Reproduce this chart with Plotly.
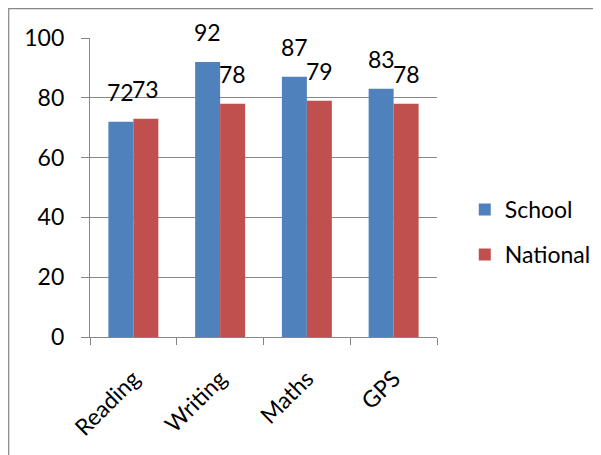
import plotly.graph_objects as go

categories = ["Reading", "Writing", "Maths", "GPS"]
school = [72, 92, 87, 83]
national = [73, 78, 79, 78]
y_ticks = [0, 20, 40, 60, 80, 100]

BLUE = "#4F81BD"
RED = "#C0504D"
GRID = "#868686"
FONT = "Lato"
FS = 23

fig = go.Figure()
fig.add_trace(go.Bar(name="School", x=categories, y=school, marker=dict(color=BLUE, line=dict(width=0)),
                     legendgroup="a"))
fig.add_trace(go.Bar(name="National", x=categories, y=national, marker=dict(color=RED, line=dict(width=0)),
                     legendgroup="b"))

annotations = []
for cat, s, n in zip(categories, school, national):
    for val, sh in ((s, -12.5), (n, 12.5)):
        annotations.append(dict(x=cat, y=val, text=str(val), showarrow=False, xref="x", yref="y",
                                yanchor="bottom", xanchor="center", xshift=sh, yshift=14,
                                font=dict(family=FONT, size=FS, color="black")))

fig.update_layout(
    width=601, height=455,
    margin=dict(l=82, r=172, t=30, b=126),
    paper_bgcolor="white", plot_bgcolor="white",
    barmode="group", bargap=0.424, bargroupgap=0,
    font=dict(family=FONT, size=FS, color="black"),
    annotations=annotations,
    legend=dict(x=1.08, y=0.351, xanchor="left", yanchor="middle", traceorder="grouped",
                tracegroupgap=12, font=dict(family=FONT, size=FS, color="black"),
                bgcolor="rgba(0,0,0,0)"),
    shapes=[dict(type="rect", xref="paper", yref="paper", x0=-0.2343, x1=1.6, y0=-0.45, y1=1.098,
                 line=dict(color=GRID, width=1.2), layer="below")],
    showlegend=True,
)
fig.update_yaxes(range=[0, 100], tickvals=y_ticks, showgrid=True, gridcolor=GRID, gridwidth=1.3,
                 showline=True, linecolor=GRID, linewidth=1.3, ticks="outside", ticklen=8,
                 tickcolor=GRID, tickwidth=1.3, ticklabelstandoff=12, zeroline=False,
                 tickfont=dict(family=FONT, size=FS, color="black"))
fig.update_xaxes(showline=True, linecolor=GRID, linewidth=1.3, ticks="outside", ticklen=7,
                 tickcolor=GRID, tickwidth=1.3, tickson="boundaries", tickangle=-45,
                 ticklabelstandoff=18,
                 tickfont=dict(family=FONT, size=FS, color="black"))

fig.write_html("out.html")
